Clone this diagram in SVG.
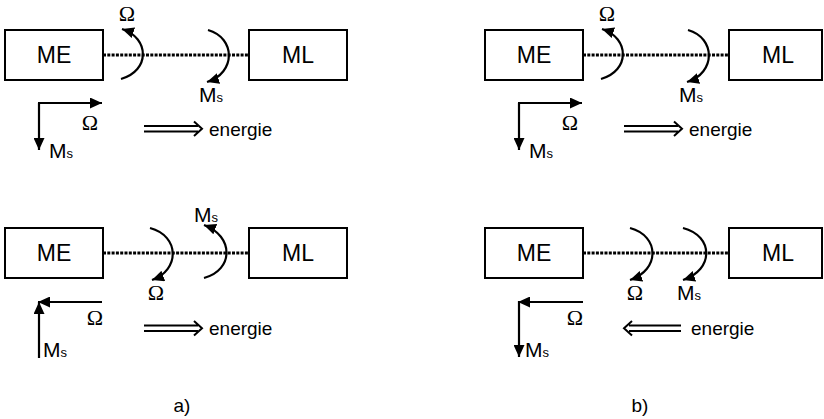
<svg xmlns="http://www.w3.org/2000/svg" width="824" height="419" viewBox="0 0 824 419">
<style>
.box{fill:#fff;stroke:#000;stroke-width:2}
.lbl{font-family:"Liberation Sans",Arial,sans-serif;font-size:23px;fill:#000;text-anchor:middle}
.en{font-family:"Liberation Sans",Arial,sans-serif;font-size:19px;fill:#000}
.m{font-family:"Liberation Sans",Arial,sans-serif;font-size:21px;fill:#000}
.om{font-family:"Liberation Serif","Times New Roman",serif;font-size:22px;fill:#000;text-anchor:middle}
.shaft{fill:none;stroke:#000;stroke-width:2.2;marker-end:url(#ah)}
.dot{fill:none;stroke:#000;stroke-width:2.8;stroke-dasharray:3 1.3}
.dbl{fill:none;stroke:#000;stroke-width:2}
</style>
<defs>
<marker id="ah" markerUnits="userSpaceOnUse" markerWidth="12" markerHeight="11" refX="12" refY="5.5" orient="auto">
<path d="M0,0 L12,5.5 L0,11 z" fill="#000"/>
</marker>
</defs>

<g id="a-top-ME"><rect class="box" x="5" y="30" width="98" height="50"/><text class="lbl" x="54" y="63">ME</text></g>
<g id="a-top-ML"><rect class="box" x="249" y="30" width="98" height="50"/><text class="lbl" x="298" y="63">ML</text></g>
<g id="a-bot-ME"><rect class="box" x="5" y="228" width="98" height="50"/><text class="lbl" x="54" y="261">ME</text></g>
<g id="a-bot-ML"><rect class="box" x="249" y="228" width="98" height="50"/><text class="lbl" x="298" y="261">ML</text></g>
<g id="b-top-ME"><rect class="box" x="485" y="30" width="98" height="50"/><text class="lbl" x="534" y="63">ME</text></g>
<g id="b-top-ML"><rect class="box" x="729" y="30" width="93" height="50"/><text class="lbl" x="778" y="63">ML</text></g>
<g id="b-bot-ME"><rect class="box" x="485" y="228" width="98" height="50"/><text class="lbl" x="534" y="261">ME</text></g>
<g id="b-bot-ML"><rect class="box" x="729" y="228" width="93" height="50"/><text class="lbl" x="778" y="261">ML</text></g>

<g id="connectors">
<path class="dot" d="M103,55 H249"/>
<path class="dot" d="M103,253 H249"/>
<path class="dot" d="M583,55 H729"/>
<path class="dot" d="M583,253 H729"/>

<path class="shaft" d="M121,79 C150,71 150,38 122,29"/>
<path class="shaft" d="M208,30 C236,38 236,73 207,82"/>
<path class="shaft" d="M601,79 C630,71 630,38 602,29"/>
<path class="shaft" d="M688,30 C716,38 716,73 687,82"/>
<path class="shaft" d="M150,228 C180,236 180,270 152,280"/>
<path class="shaft" d="M204,278 C234,270 234,236 204,225"/>
<path class="shaft" d="M630,228 C660,236 660,270 630,280"/>
<path class="shaft" d="M683,228 C714,236 714,270 683,280"/>

<path class="shaft" d="M39,103 V150"/>
<path class="shaft" d="M38,103 H102"/>
<path class="shaft" d="M519,103 V150"/>
<path class="shaft" d="M518,103 H582"/>
<path class="shaft" d="M102,302 H38"/>
<path class="shaft" d="M39,358 V302"/>
<path class="shaft" d="M583,302 H518"/>
<path class="shaft" d="M519,301 V357"/>

<path class="dbl" d="M144,126 H198 M144,131.5 H198 M194,121.5 L202,128.75 L194,136"/>
<path class="dbl" d="M624,126 H678 M624,131.5 H678 M674,121.5 L682,128.75 L674,136"/>
<path class="dbl" d="M144,325.5 H198 M144,331 H198 M194,321 L202,328.25 L194,335.5"/>
<path class="dbl" d="M629,325.5 H681 M629,331 H681 M632,321 L624,328.25 L632,335.5"/>
</g>

<g id="labels">
<text class="om" x="127" y="21">Ω</text>
<text class="m" x="199" y="102">M<tspan font-size="13">s</tspan></text>
<text class="om" x="90" y="130">Ω</text>
<text class="m" x="49" y="158">M<tspan font-size="13">s</tspan></text>
<text class="en" x="209" y="136">energie</text>

<text class="om" x="607" y="21">Ω</text>
<text class="m" x="679" y="102">M<tspan font-size="13">s</tspan></text>
<text class="om" x="570" y="130">Ω</text>
<text class="m" x="529" y="158">M<tspan font-size="13">s</tspan></text>
<text class="en" x="689" y="136">energie</text>

<text class="m" x="194" y="222">M<tspan font-size="13">s</tspan></text>
<text class="om" x="156" y="300">Ω</text>
<text class="om" x="95" y="325">Ω</text>
<text class="m" x="43" y="357">M<tspan font-size="13">s</tspan></text>
<text class="en" x="209" y="335">energie</text>

<text class="om" x="635" y="300">Ω</text>
<text class="m" x="677" y="300">M<tspan font-size="13">s</tspan></text>
<text class="om" x="575" y="325">Ω</text>
<text class="m" x="525" y="357">M<tspan font-size="13">s</tspan></text>
<text class="en" x="691" y="335">energie</text>

<text class="en" x="182" y="412" text-anchor="middle">a)</text>
<text class="en" x="640" y="412" text-anchor="middle">b)</text>
</g>
</svg>
